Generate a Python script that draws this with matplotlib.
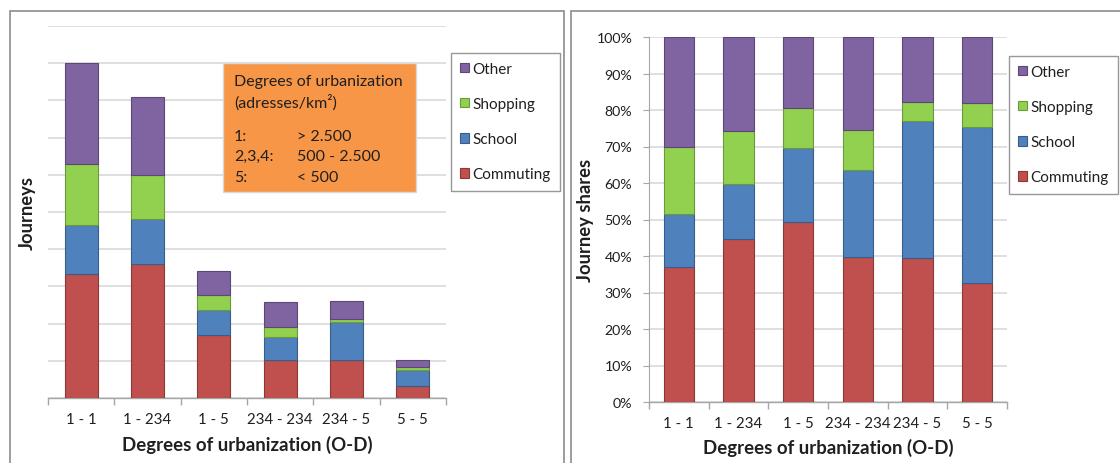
import matplotlib
matplotlib.use('Agg')
import matplotlib.pyplot as plt
import matplotlib.ticker as mticker
from matplotlib.patches import Rectangle, Patch
import numpy as np

plt.rcParams['font.family'] = ['Lato', 'DejaVu Sans']

# ── Data ──────────────────────────────────────────────────────────────────────
categories = ["1 - 1", "1 - 234", "1 - 5", "234 - 234", "234 - 5", "5 - 5"]
purposes = ["Commuting", "School", "Shopping", "Other"]

# journeys (one unit per gridline, no scale printed)
commuting = [3.34, 3.60, 1.69, 1.03, 1.03, 0.32]
school = [1.30, 1.22, 0.68, 0.61, 1.00, 0.44]
shopping = [1.66, 1.17, 0.39, 0.27, 0.10, 0.08]
other = [2.71, 2.09, 0.65, 0.66, 0.48, 0.17]

# journey shares (%)
commuting_pct = [37.0, 44.7, 49.4, 39.8, 39.5, 32.5]
school_pct = [14.6, 14.9, 20.2, 23.7, 37.4, 42.9]
shopping_pct = [18.4, 14.7, 10.9, 11.0, 5.4, 6.4]
other_pct = [30.0, 25.7, 19.5, 25.5, 17.7, 18.2]

COLORS = {"Commuting": "#C0504D", "School": "#4F81BD",
          "Shopping": "#92D050", "Other": "#8064A2"}
EDGES = {"Commuting": "#8C3836", "School": "#385D8A",
         "Shopping": "#6B9A3A", "Other": "#5C4776"}
GRID = "#D9D9D9"
AXIS = "#A6A6A6"
TEXT = "#1F1F1F"

fig = plt.figure(figsize=(11.2, 4.64), dpi=100)
W, H = 1120, 464


def px_axes(x0, y0, x1, y1):
    return fig.add_axes([x0 / W, 1 - y1 / H, (x1 - x0) / W, (y1 - y0) / H])


def stacked(ax, series, width):
    x = np.arange(len(categories))
    bottom = np.zeros(len(categories))
    for name, vals in zip(purposes, series):
        vals = np.asarray(vals)
        ax.bar(x, vals, width=width, bottom=bottom, color=COLORS[name],
               edgecolor=EDGES[name], linewidth=0.8, zorder=3)
        bottom += vals
    ax.set_xlim(-0.5, len(categories) - 0.5)
    ax.set_xticks(x)
    ax.set_xticklabels(categories, fontsize=10.8, color=TEXT)
    ax.xaxis.set_minor_locator(mticker.FixedLocator(np.arange(-0.5, len(categories), 1)))
    ax.tick_params(axis='x', which='major', length=0, pad=10)
    ax.tick_params(axis='x', which='minor', length=5, color=AXIS, width=1)
    for s in ['top', 'right', 'left']:
        ax.spines[s].set_visible(False)
    ax.spines['bottom'].set_color(AXIS)
    ax.spines['bottom'].set_linewidth(1)
    ax.grid(axis='y', color=GRID, linewidth=1.2, zorder=0)
    ax.set_axisbelow(True)


def add_legend(ax, x0, y0):
    handles = [Patch(facecolor=COLORS[n], edgecolor=EDGES[n], linewidth=0.8, label=n)
               for n in reversed(purposes)]
    leg = ax.legend(handles=handles, loc='upper left',
                    bbox_to_anchor=(x0 / W, 1 - y0 / H), bbox_transform=fig.transFigure,
                    fontsize=11, frameon=True, fancybox=False, edgecolor='#7F7F7F',
                    handlelength=0.55, handleheight=0.55, handletextpad=0.25,
                    labelspacing=1.38, borderpad=0.6, borderaxespad=0)
    leg.get_frame().set_linewidth(1)
    for t in leg.get_texts():
        t.set_color(TEXT)


# ── Panel frames ──────────────────────────────────────────────────────────────
for x0, x1 in [(10, 564), (571, 1125)]:
    fig.patches.append(Rectangle((x0 / W, -0.05), (x1 - x0) / W, 1 - 12 / H + 0.05,
                                 transform=fig.transFigure, fill=False,
                                 edgecolor='#8C8C8C', linewidth=1.2))

# ── Left: journeys ────────────────────────────────────────────────────────────
ax1 = px_axes(48, 27, 446, 399)
stacked(ax1, [commuting, school, shopping, other], width=0.5)
ax1.set_ylim(0, 10)
ax1.yaxis.set_major_locator(mticker.MultipleLocator(1))
ax1.tick_params(axis='y', length=0, labelleft=False)
ax1.set_ylabel("Journeys", fontsize=13.2, fontweight='bold', color=TEXT)
ax1.yaxis.set_label_coords(-0.03, 0.5)
ax1.text(0.5, (399 - 445) / 372, "Degrees of urbanization (O-D)", transform=ax1.transAxes,
         ha='center', va='center', fontsize=13.4, fontweight='bold', color=TEXT)
add_legend(ax1, 451, 54)

# urbanization key box
ax1.add_patch(Rectangle((223 / W, 1 - 193 / H), (416 - 223) / W, (193 - 64) / H,
                        transform=fig.transFigure, facecolor='#F79646',
                        edgecolor='#D9D9D9', linewidth=1, zorder=5))
key_rows = [("Degrees of urbanization", None, 82),
            ("(adresses/km²)", None, 103),
            ("1:", "> 2.500", 137),
            ("2,3,4:", "500 - 2.500", 157),
            ("5:", "< 500", 178)]
for left, right, y in key_rows:
    fig.text(234 / W, 1 - y / H, left, fontsize=11.5, color=TEXT, va='center', zorder=6)
    if right:
        fig.text(297 / W, 1 - y / H, right, fontsize=11.5, color=TEXT, va='center', zorder=6)

# ── Right: journey shares ─────────────────────────────────────────────────────
ax2 = px_axes(649, 38, 1007, 403)
stacked(ax2, [commuting_pct, school_pct, shopping_pct, other_pct], width=0.51)
ax2.set_ylim(0, 100)
ax2.yaxis.set_major_locator(mticker.MultipleLocator(10))
ax2.yaxis.set_major_formatter(mticker.FuncFormatter(lambda v, _: f"{v:.0f}%"))
ax2.spines['left'].set_visible(True)
ax2.spines['left'].set_color(AXIS)
ax2.tick_params(axis='y', length=4, color=AXIS, pad=8, labelsize=10.2, labelcolor=TEXT)
ax2.set_ylabel("Journey shares", fontsize=13.2, fontweight='bold', color=TEXT)
ax2.yaxis.set_label_coords(-0.155, 0.5)
ax2.text(0.5, (403 - 448) / 365, "Degrees of urbanization (O-D)", transform=ax2.transAxes,
         ha='center', va='center', fontsize=13.4, fontweight='bold', color=TEXT)
add_legend(ax2, 1009, 57)

fig.savefig("out.png", dpi=100)
plt.close(fig)
